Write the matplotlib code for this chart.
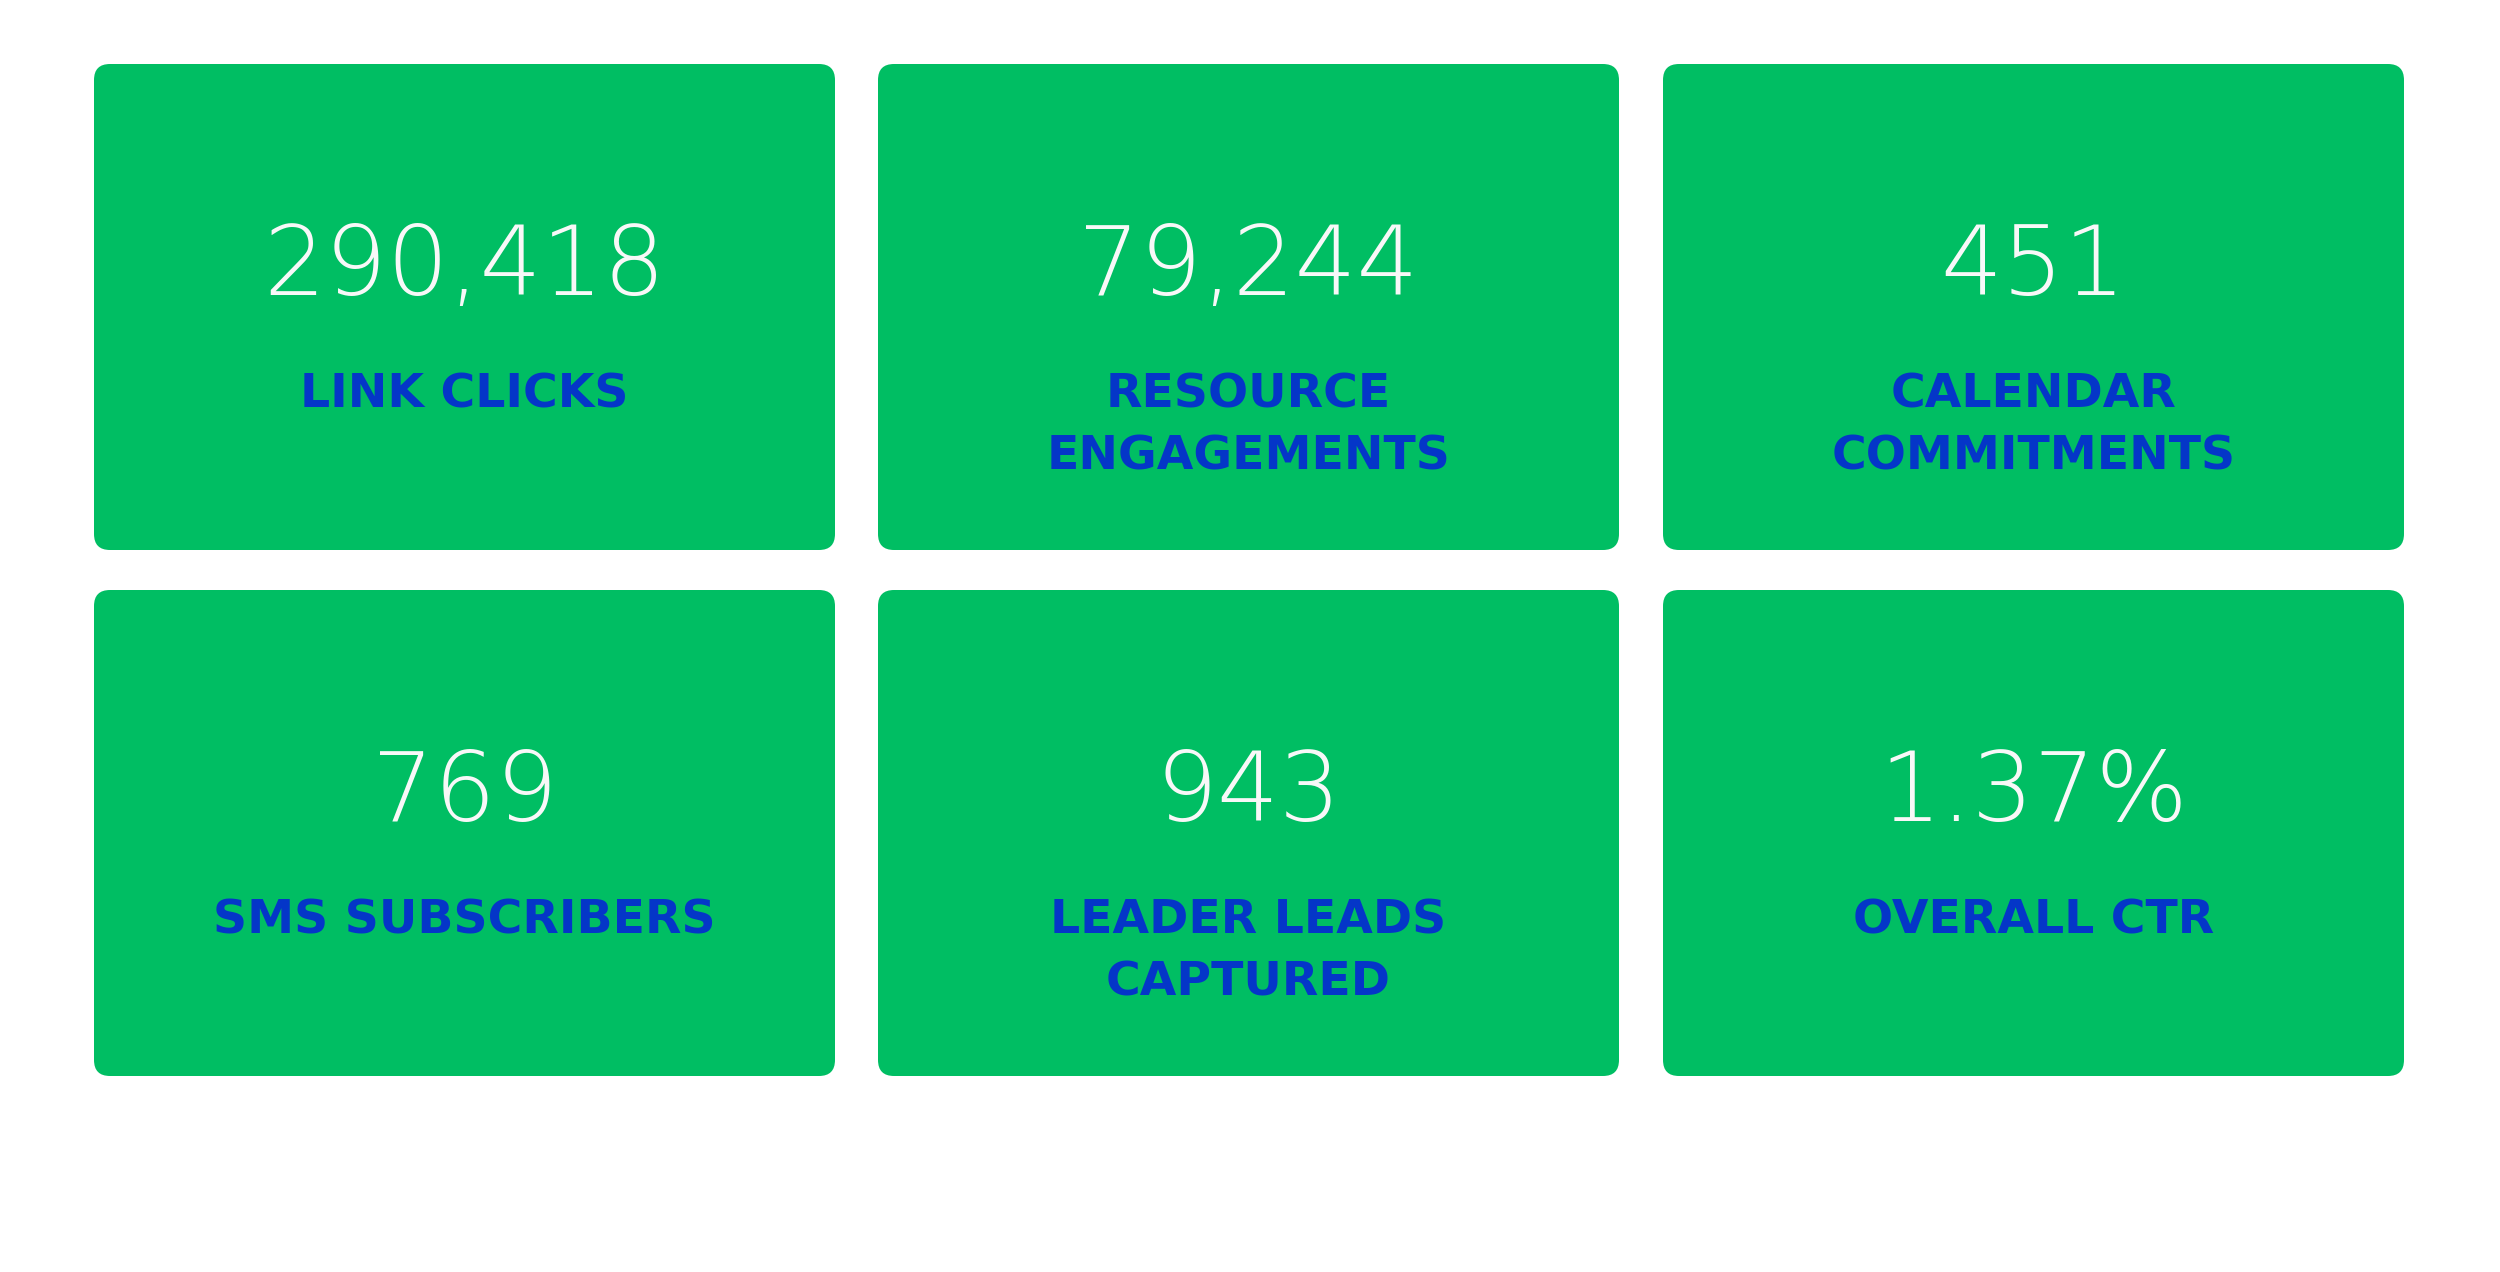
import matplotlib
matplotlib.use("Agg")
import matplotlib.pyplot as plt
from matplotlib.patches import FancyBboxPatch

# KPI tiles, row by row
values = ["290,418", "79,244", "451", "769", "943", "1.37%"]
labels = ["LINK CLICKS", "RESOURCE\nENGAGEMENTS", "CALENDAR\nCOMMITMENTS",
          "SMS SUBSCRIBERS", "LEADER LEADS\nCAPTURED", "OVERALL CTR"]

W, H = 2500, 1272
card_green = "#00BE63"
label_blue = "#0436C8"
value_white = "#F8F8F8"

col_left = [94, 878, 1663]
row_top = [64, 590]
card_w, card_h = 741, 486

fig = plt.figure(figsize=(W / 100, H / 100), dpi=100)
ax = fig.add_axes([0, 0, 1, 1])
ax.set_xlim(0, W)
ax.set_ylim(H, 0)
ax.axis("off")

for i, (val, lab) in enumerate(zip(values, labels)):
    x0 = col_left[i % 3]
    y0 = row_top[i // 3]
    r = 16
    box = FancyBboxPatch((x0 + r, y0 + r), card_w - 2 * r, card_h - 2 * r,
                         boxstyle=f"round,pad={r}", fc=card_green, ec="none")
    ax.add_patch(box)
    cx = x0 + card_w / 2
    ax.text(cx, y0 + 231, val, ha="center", va="baseline", color=value_white,
            fontsize=70, family="DejaVu Sans", weight="light")
    for j, line in enumerate(lab.split("\n")):
        ax.text(cx, y0 + 343 + j * 62, line, ha="center", va="baseline",
                color=label_blue, fontsize=34, family="DejaVu Sans", weight="bold")

fig.savefig("out.png", dpi=100, facecolor="white")
